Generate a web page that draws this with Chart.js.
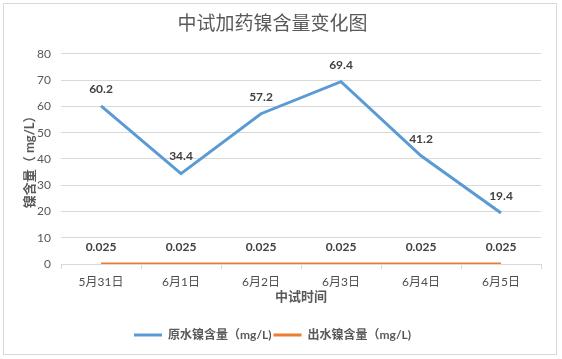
<!DOCTYPE html>
<html>
<head>
<meta charset="utf-8">
<script src="https://cdn.jsdelivr.net/npm/chart.js@4"></script>
<style>
  html, body { margin: 0; padding: 0; background: #fff; }
  #wrap {
    position: absolute; left: 3px; top: 3px;
    width: 554px; height: 352px;
    box-sizing: border-box; border: 1px solid #d9d9d9;
  }
  #chart { display: block; }
</style>
</head>
<body>
<div id="wrap"><canvas id="chart" width="552" height="350"></canvas></div>
<script>
const dates = ['5月31日', '6月1日', '6月2日', '6月3日', '6月4日', '6月5日'];
const rawNickel = [60.2, 34.4, 57.2, 69.4, 41.2, 19.4];
const outNickel = [0.025, 0.025, 0.025, 0.025, 0.025, 0.025];
const yTicks = [0, 10, 20, 30, 40, 50, 60, 70, 80];

const FONT = "Lato, 'Noto Sans CJK SC', sans-serif";
Chart.defaults.font.family = FONT;
Chart.defaults.color = '#595959';

// value labels above each point
const pointLabels = {
  id: 'pointLabels',
  afterDatasetsDraw(chart) {
    const ctx = chart.ctx;
    ctx.save();
    ctx.font = 'bold 12px ' + FONT;
    ctx.fillStyle = '#404040';
    ctx.textAlign = 'center';
    ctx.textBaseline = 'middle';
    chart.data.datasets.forEach((ds, i) => {
      chart.getDatasetMeta(i).data.forEach((pt, j) => {
        ctx.fillText(String(ds.data[j]), pt.x, pt.y - 17);
      });
    });
    ctx.restore();
  }
};

new Chart(document.getElementById('chart'), {
  type: 'line',
  data: {
    labels: dates,
    datasets: [
      { label: '原水镍含量（mg/L)', data: rawNickel, borderColor: '#5b9bd5', backgroundColor: '#5b9bd5', borderWidth: 3, pointRadius: 0, tension: 0 },
      { label: '出水镍含量（mg/L)', data: outNickel, borderColor: '#ed7d31', backgroundColor: '#ed7d31', borderWidth: 3, pointRadius: 0, tension: 0 }
    ]
  },
  options: {
    responsive: false,
    animation: false,
    layout: { padding: { left: 0, right: 15, top: 0, bottom: 3 } },
    plugins: {
      title: {
        display: true, text: '中试加药镍含量变化图',
        font: { size: 19, weight: 'normal', family: FONT }, color: '#595959',
        padding: { top: 8, bottom: 19 }
      },
      legend: {
        position: 'bottom',
        labels: {
          usePointStyle: true, pointStyle: 'line', pointStyleWidth: 28, boxWidth: 28, boxHeight: 12,
          padding: 2, color: '#595959', font: { size: 12, weight: 'bold' }
        }
      },
      tooltip: { enabled: false }
    },
    scales: {
      x: {
        offset: true,
        grid: { offset: true, drawOnChartArea: false, tickLength: 5, color: '#d9d9d9' },
        border: { color: '#d9d9d9' },
        ticks: { padding: 6, color: '#4d4d4d', font: { size: 12 } },
        title: { display: true, text: '中试时间', color: '#595959', font: { size: 13, weight: 'bold' }, padding: { top: 0, bottom: 22 } },
        afterFit(scale) { scale.height = 63; }
      },
      y: {
        min: 0, max: 80,
        afterBuildTicks(scale) { scale.ticks = yTicks.map(v => ({ value: v })); },
        grid: { drawTicks: false, color: '#d9d9d9' },
        border: { display: false },
        ticks: { padding: 10, color: '#595959', font: { size: 12 } },
        title: { display: true, text: '镍含量（ mg/L）', color: '#595959', font: { size: 13, weight: 'bold' }, padding: { top: 18, bottom: 0 } },
        afterFit(scale) { scale.width = 57; }
      }
    }
  },
  plugins: [pointLabels]
});
</script>
</body>
</html>
